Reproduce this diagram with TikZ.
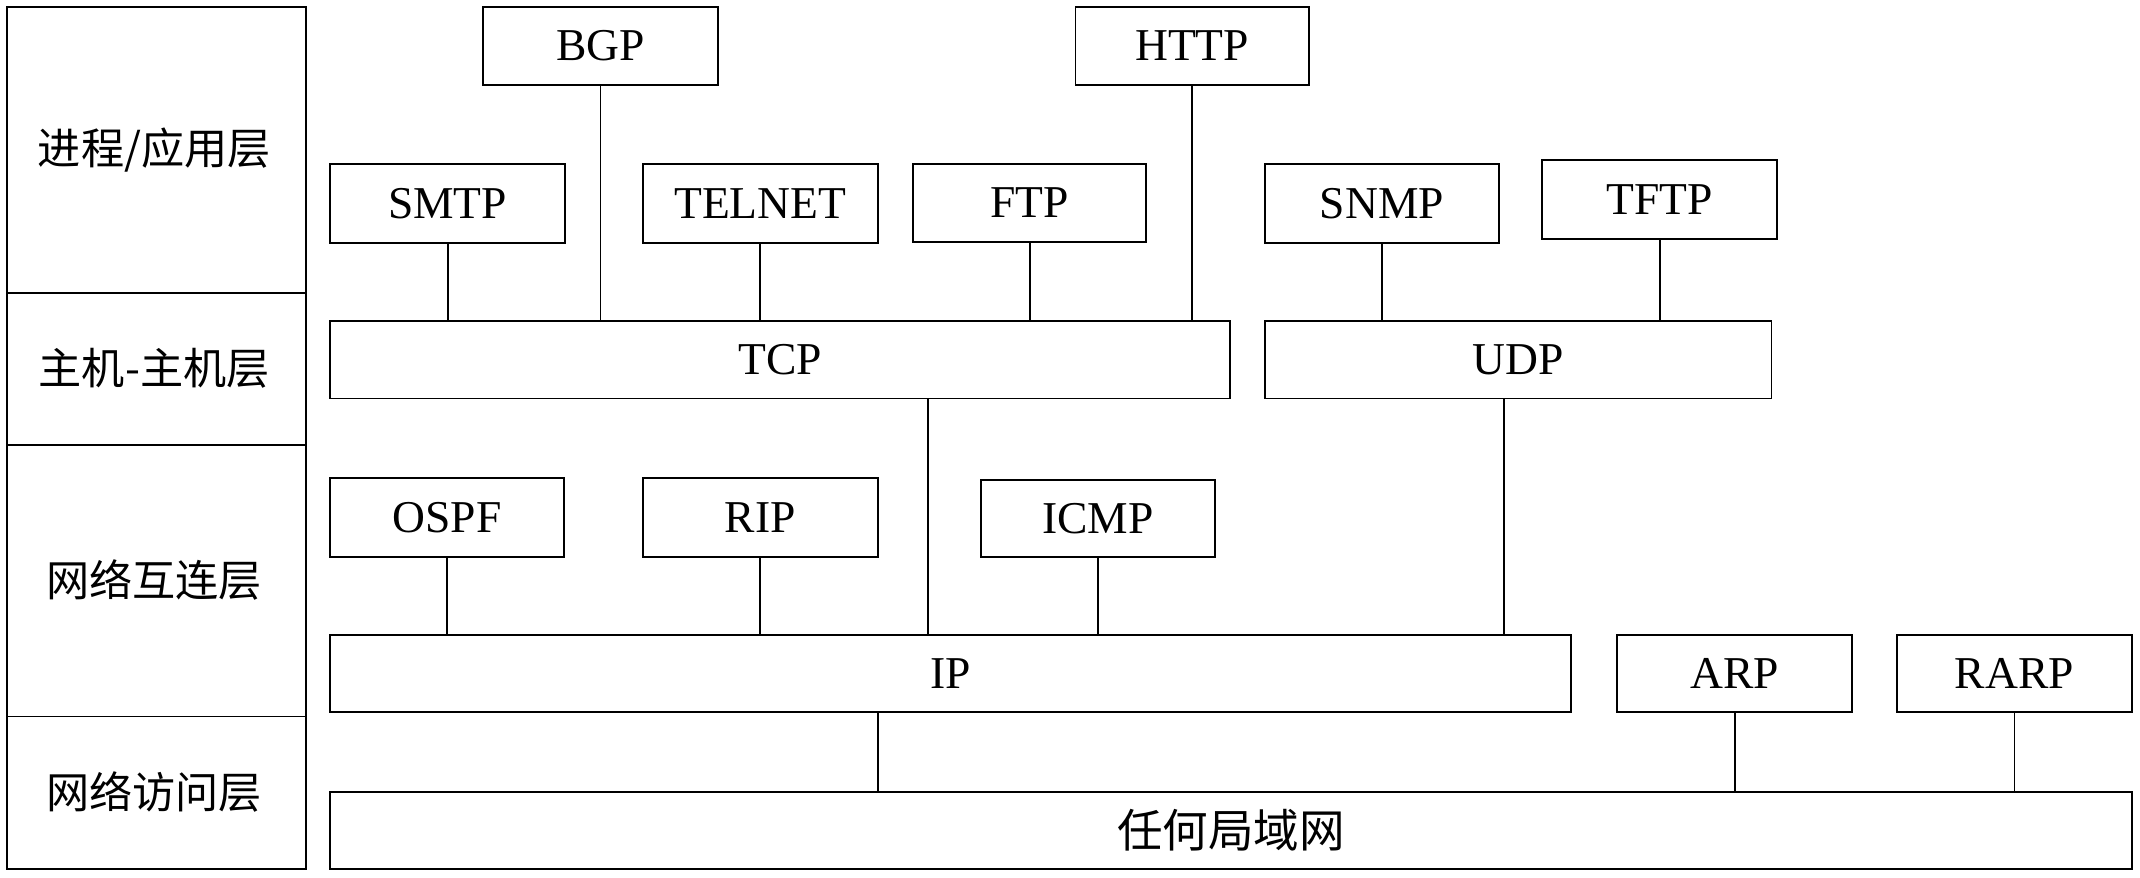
\documentclass[tikz,border=0pt]{standalone}
\usepackage{fontspec}
\setmainfont{Liberation Serif}
\newfontfamily\cjk{Noto Sans CJK SC}
\usepackage{tikz}
\newcommand{\pxu}{0.02cm}
% box from pixel corners (x1,y1) to (x2,y2)
\newcommand{\pbox}[6]{%
    \node[proto,minimum width={(#4-#2)*\pxu},minimum height={(#5-#3)*\pxu}] (#1) at ({(#2+#4)/2},{(#3+#5)/2}) {#6};}
\tikzset{
    proto/.style={draw,thick,inner sep=0pt,font=\fontsize{19}{22}\selectfont},
    layer/.style={font=\cjk\fontsize{18}{22}\selectfont},
    link/.style={thick}
}
\begin{document}
\begin{tikzpicture}[x=0.02cm,y=-0.02cm]
    \useasboundingbox (0,0) rectangle (1568,643);
    % --- layer column
    \draw[thick] (5,5) rectangle (224,637);
    \foreach \yy in {215,326,525} \draw[thick] (5,\yy) -- (224,\yy);
    \node[layer] (L1) at (113,110) {进程/应用层};
    \node[layer] (L2) at (113,270) {主机-主机层};
    \node[layer] (L3) at (113,425) {网络互连层};
    \node[layer] (L4) at (113,580) {网络访问层};
    % --- protocol boxes
    \pbox{BGP}{354}{5}{526}{62}{BGP}
    \pbox{HTTP}{788}{5}{959}{62}{HTTP}
    \pbox{SMTP}{242}{120}{414}{178}{SMTP}
    \pbox{TELNET}{471}{120}{643}{178}{TELNET}
    \pbox{FTP}{669}{120}{840}{177}{FTP}
    \pbox{SNMP}{927}{120}{1098}{178}{SNMP}
    \pbox{TFTP}{1130}{117}{1302}{175}{TFTP}
    \pbox{TCP}{242}{235}{901}{292}{TCP}
    \pbox{UDP}{927}{235}{1298}{292}{UDP}
    \pbox{OSPF}{242}{350}{413}{408}{OSPF}
    \pbox{RIP}{471}{350}{643}{408}{RIP}
    \pbox{ICMP}{719}{352}{890}{408}{ICMP}
    \pbox{IP}{242}{465}{1151}{522}{IP}
    \pbox{ARP}{1185}{465}{1357}{522}{ARP}
    \pbox{RARP}{1390}{465}{1562}{522}{RARP}
    \pbox{LAN}{242}{580}{1562}{637}{\cjk 任何局域网}
    % --- connectors
    \foreach \p in {SMTP,BGP,TELNET,FTP,HTTP} \draw[link] (\p.south) -- (\p.south |- TCP.north);
    \foreach \p in {SNMP,TFTP} \draw[link] (\p.south) -- (\p.south |- UDP.north);
    \foreach \p in {OSPF,RIP,ICMP} \draw[link] (\p.south) -- (\p.south |- IP.north);
    \foreach \p in {ARP,RARP} \draw[link] (\p.south) -- (\p.south |- LAN.north);
    \coordinate (TCPdown) at (680,292);
    \coordinate (UDPdown) at (1102,292);
    \coordinate (IPdown) at (643,522);
    \draw[link] (TCPdown) -- (TCPdown |- IP.north);
    \draw[link] (UDPdown) -- (UDPdown |- IP.north);
    \draw[link] (IPdown) -- (IPdown |- LAN.north);
\end{tikzpicture}
\end{document}
